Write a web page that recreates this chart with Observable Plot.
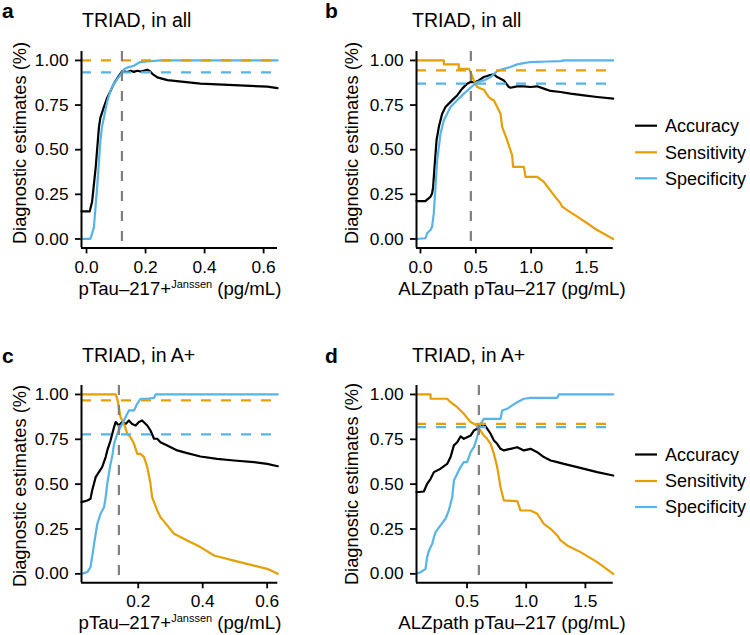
<!DOCTYPE html>
<html>
<head>
<meta charset="utf-8">
<script src="https://cdn.jsdelivr.net/npm/d3@7"></script>
<script src="https://cdn.jsdelivr.net/npm/@observablehq/plot@0.6"></script>
<style>
  html, body { margin: 0; padding: 0; background: #fff; }
  #root { position: relative; width: 750px; height: 635px; overflow: hidden; background: #fff; }
  #root svg.panel { position: absolute; }
  #overlay { position: absolute; left: 0; top: 0; pointer-events: none; }
</style>
</head>
<body>
<div id="root"></div>
<script>
// ---------------- data ----------------
const yTicks = [0, 0.25, 0.5, 0.75, 1];
const yDomain = [-0.05, 1.05];
const seriesNames = ["Accuracy", "Sensitivity", "Specificity"];

// Panel a: TRIAD, in all — pTau-217+ Janssen
const xTicksA = [0, 0.2, 0.4, 0.6];
const xDomainA = [-0.017, 0.647];
const accA = [[-0.017,0.155],[0.011,0.155],[0.019,0.21],[0.031,0.40],[0.042,0.625],[0.047,0.68],[0.059,0.74],[0.070,0.79],[0.093,0.87],[0.110,0.915],[0.121,0.94],[0.138,0.935],[0.15,0.942],[0.16,0.936],[0.172,0.942],[0.183,0.938],[0.206,0.948],[0.215,0.94],[0.223,0.925],[0.24,0.905],[0.274,0.89],[0.33,0.88],[0.386,0.87],[0.499,0.862],[0.613,0.853],[0.647,0.845]];
const specA = [[-0.017,0],[0.012,0],[0.015,0.01],[0.025,0.065],[0.036,0.29],[0.047,0.55],[0.052,0.625],[0.059,0.68],[0.070,0.77],[0.081,0.83],[0.093,0.87],[0.104,0.895],[0.115,0.92],[0.127,0.95],[0.138,0.96],[0.16,0.97],[0.18,0.99],[0.206,0.994],[0.25,1],[0.647,1]];
const cutA = 0.12, sensCutA = 1.0, specCutA = 0.933;

// Panel b: TRIAD, in all — ALZpath pTau-217
const xTicksB = [0, 0.5, 1, 1.5];
const xDomainB = [-0.036, 1.741];
const accB = [[-0.036,0.212],[0.045,0.212],[0.06,0.22],[0.09,0.236],[0.105,0.255],[0.114,0.29],[0.127,0.404],[0.145,0.553],[0.166,0.628],[0.196,0.702],[0.226,0.739],[0.256,0.758],[0.301,0.786],[0.331,0.804],[0.377,0.842],[0.422,0.87],[0.452,0.879],[0.497,0.879],[0.527,0.888],[0.572,0.907],[0.617,0.916],[0.663,0.922],[0.693,0.907],[0.753,0.888],[0.798,0.851],[0.813,0.847],[0.873,0.855],[0.934,0.855],[0.994,0.851],[1.054,0.855],[1.114,0.842],[1.175,0.829],[1.265,0.823],[1.355,0.814],[1.476,0.804],[1.596,0.795],[1.741,0.786]];
const sensB = [[-0.036,1],[0.211,1],[0.211,0.978],[0.346,0.978],[0.346,0.953],[0.437,0.953],[0.452,0.935],[0.482,0.888],[0.512,0.851],[0.572,0.836],[0.617,0.795],[0.633,0.786],[0.663,0.777],[0.693,0.739],[0.723,0.702],[0.738,0.628],[0.783,0.553],[0.828,0.469],[0.837,0.404],[0.934,0.404],[0.949,0.348],[1.054,0.348],[1.114,0.32],[1.205,0.246],[1.265,0.199],[1.28,0.181],[1.325,0.162],[1.416,0.125],[1.506,0.088],[1.596,0.05],[1.741,0]];
const specB = [[-0.036,0],[0.045,0.004],[0.06,0.032],[0.09,0.05],[0.105,0.069],[0.12,0.143],[0.136,0.292],[0.151,0.441],[0.181,0.59],[0.211,0.665],[0.241,0.702],[0.271,0.739],[0.331,0.777],[0.392,0.814],[0.452,0.847],[0.512,0.879],[0.572,0.888],[0.633,0.907],[0.693,0.94],[0.753,0.953],[0.813,0.963],[0.873,0.978],[0.934,0.985],[0.994,0.991],[1.145,0.994],[1.265,0.996],[1.295,1],[1.741,1]];
const cutB = 0.455, sensCutB = 0.944, specCutB = 0.87;

// Panel c: TRIAD, in A+ — pTau-217+ Janssen
const xTicksC = [0.2, 0.4, 0.6];
const xDomainC = [0.024, 0.633];
const accC = [[0.024,0.4],[0.042,0.409],[0.052,0.418],[0.057,0.465],[0.068,0.539],[0.078,0.567],[0.088,0.595],[0.099,0.651],[0.104,0.688],[0.114,0.743],[0.125,0.818],[0.13,0.846],[0.14,0.827],[0.15,0.846],[0.161,0.836],[0.171,0.855],[0.181,0.836],[0.192,0.827],[0.202,0.846],[0.212,0.855],[0.228,0.827],[0.238,0.799],[0.249,0.753],[0.259,0.753],[0.269,0.734],[0.29,0.716],[0.321,0.688],[0.352,0.673],[0.393,0.654],[0.445,0.641],[0.497,0.632],[0.559,0.623],[0.6,0.613],[0.633,0.6]];
const sensC = [[0.024,1],[0.13,1],[0.135,0.976],[0.14,0.929],[0.145,0.874],[0.156,0.836],[0.166,0.781],[0.176,0.762],[0.187,0.725],[0.197,0.669],[0.207,0.669],[0.218,0.651],[0.228,0.595],[0.238,0.502],[0.243,0.428],[0.249,0.4],[0.259,0.353],[0.269,0.316],[0.29,0.27],[0.311,0.223],[0.352,0.186],[0.393,0.149],[0.435,0.102],[0.497,0.074],[0.559,0.046],[0.6,0.028],[0.633,0]];
const specC = [[0.024,0],[0.042,0.01],[0.052,0.037],[0.057,0.093],[0.063,0.167],[0.073,0.279],[0.083,0.335],[0.094,0.372],[0.099,0.428],[0.104,0.502],[0.114,0.613],[0.119,0.651],[0.125,0.725],[0.135,0.781],[0.145,0.818],[0.161,0.874],[0.171,0.911],[0.187,0.911],[0.197,0.948],[0.207,0.976],[0.228,0.976],[0.249,0.981],[0.254,1],[0.633,1]];
const cutC = 0.14, sensCutC = 0.967, specCutC = 0.777;

// Panel d: TRIAD, in A+ — ALZpath pTau-217
const xTicksD = [0.5, 1, 1.5];
const xDomainD = [0.073, 1.735];
const accD = [[0.073,0.455],[0.135,0.459],[0.163,0.502],[0.192,0.53],[0.22,0.567],[0.276,0.586],[0.332,0.613],[0.361,0.651],[0.389,0.716],[0.417,0.734],[0.445,0.766],[0.473,0.753],[0.501,0.762],[0.53,0.771],[0.558,0.799],[0.586,0.809],[0.614,0.827],[0.642,0.836],[0.67,0.809],[0.699,0.781],[0.727,0.743],[0.755,0.725],[0.783,0.697],[0.811,0.688],[0.868,0.697],[0.924,0.706],[0.98,0.688],[1.037,0.697],[1.093,0.678],[1.149,0.651],[1.206,0.632],[1.262,0.623],[1.318,0.613],[1.431,0.595],[1.6,0.567],[1.735,0.548]];
const sensD = [[0.073,1],[0.192,1],[0.192,0.976],[0.332,0.976],[0.361,0.957],[0.417,0.929],[0.473,0.892],[0.53,0.846],[0.586,0.827],[0.614,0.799],[0.642,0.771],[0.67,0.753],[0.699,0.725],[0.727,0.669],[0.755,0.595],[0.783,0.483],[0.811,0.409],[0.924,0.405],[0.952,0.353],[1.037,0.353],[1.093,0.335],[1.149,0.279],[1.206,0.251],[1.262,0.214],[1.29,0.186],[1.346,0.158],[1.459,0.121],[1.6,0.065],[1.735,0]];
const specD = [[0.073,0],[0.107,0.009],[0.149,0.028],[0.163,0.093],[0.178,0.13],[0.206,0.167],[0.22,0.204],[0.234,0.232],[0.276,0.27],[0.318,0.307],[0.346,0.353],[0.375,0.428],[0.389,0.52],[0.417,0.558],[0.445,0.595],[0.473,0.623],[0.501,0.623],[0.53,0.678],[0.558,0.706],[0.586,0.762],[0.6,0.809],[0.614,0.836],[0.642,0.864],[0.783,0.864],[0.797,0.911],[0.839,0.92],[0.882,0.939],[0.924,0.957],[0.98,0.976],[1.037,0.981],[1.262,0.981],[1.276,1],[1.735,1]];
const cutD = 0.60, sensCutD = 0.836, specCutD = 0.818;

// ---------------- styling ----------------
const FONT = '"Liberation Sans", Arial, Helvetica, sans-serif';
const BLACK = "#000000", ORANGE = "#E69F00", BLUE = "#56B4E9", GRAY = "#7F7F7F";
const colors = [BLACK, ORANGE, BLUE];

const panels = [
  {key: "a", left: 0, top: 0, mt: 51, mb: 52.6, mr: 23, xpad: 7, xDomain: xDomainA, xTicks: xTicksA, acc: accA, sens: null, spec: specA, cut: cutA, sensCut: sensCutA, specCut: specCutA},
  {key: "b", left: 335, top: 0, mt: 51, mb: 52.6, mr: 22.3, xpad: 7, xDomain: xDomainB, xTicks: xTicksB, acc: accB, sens: sensB, spec: specB, cut: cutB, sensCut: sensCutB, specCut: specCutB},
  {key: "c", left: 0, top: 334, mt: 51, mb: 51.7, mr: 22.7, xpad: 5.5, xDomain: xDomainC, xTicks: xTicksC, acc: accC, sens: sensC, spec: specC, cut: cutC, sensCut: sensCutC, specCut: specCutC},
  {key: "d", left: 335, top: 334, mt: 51, mb: 51.7, mr: 22.3, xpad: 5.5, xDomain: xDomainD, xTicks: xTicksD, acc: accD, sens: sensD, spec: specD, cut: cutD, sensCut: sensCutD, specCut: specCutD}
];

const root = document.getElementById("root");
const dash = "10,10";

for (const p of panels) {
  const lineMarks = [];
  [p.acc, p.sens, p.spec].forEach((data, i) => {
    if (data) lineMarks.push(Plot.line(data, {x: d => d[0], y: d => d[1], stroke: colors[i], strokeWidth: 2.2}));
  });
  const svg = Plot.plot({
    width: 300, height: 300,
    marginLeft: 81, marginRight: p.mr, marginTop: p.mt, marginBottom: p.mb,
    x: {domain: p.xDomain},
    y: {domain: yDomain},
    style: {fontFamily: FONT, fontSize: "17.3px", color: "black", background: "transparent", overflow: "visible"},
    marks: [
      Plot.axisY({ticks: yTicks, tickFormat: d3.format(".2f"), tickSize: 6, tickPadding: 7, strokeWidth: 1.8, label: null}),
      Plot.axisX({ticks: p.xTicks, tickFormat: d3.format(".1f"), tickSize: 6, tickPadding: p.xpad, strokeWidth: 1.8, label: null}),
      ...lineMarks,
      Plot.ruleY([p.sensCut], {stroke: ORANGE, strokeWidth: 2.2, strokeDasharray: dash}),
      Plot.ruleY([p.specCut], {stroke: BLUE, strokeWidth: 2.2, strokeDasharray: dash}),
      Plot.ruleX([p.cut], {stroke: GRAY, strokeWidth: 2.2, strokeDasharray: dash}),
      Plot.ruleX([p.xDomain[0]], {stroke: BLACK, strokeWidth: 2}),
      Plot.ruleY([yDomain[0]], {stroke: BLACK, strokeWidth: 2})
    ]
  });
  svg.classList.add("panel");
  svg.style.left = p.left + "px";
  svg.style.top = p.top + "px";
  root.appendChild(svg);
}

// ---------------- text overlay (titles, labels, legends) ----------------
const NS = "http://www.w3.org/2000/svg";
const ov = document.createElementNS(NS, "svg");
ov.setAttribute("id", "overlay");
ov.setAttribute("width", 750);
ov.setAttribute("height", 635);
ov.style.fontFamily = FONT;
root.appendChild(ov);

function txt(x, y, s, opts = {}) {
  const t = document.createElementNS(NS, "text");
  t.setAttribute("x", x); t.setAttribute("y", y);
  t.setAttribute("font-size", opts.size || 18);
  if (opts.weight) t.setAttribute("font-weight", opts.weight);
  if (opts.anchor) t.setAttribute("text-anchor", opts.anchor);
  if (opts.transform) t.setAttribute("transform", opts.transform);
  t.setAttribute("fill", "black");
  if (Array.isArray(s)) {
    for (const part of s) {
      const ts = document.createElementNS(NS, "tspan");
      if (part.sup) { ts.setAttribute("font-size", 11); ts.setAttribute("dy", -6.8); }
      if (part.down) { ts.setAttribute("dy", 6.8); }
      ts.textContent = part.t;
      t.appendChild(ts);
    }
  } else t.textContent = s;
  ov.appendChild(t);
  return t;
}

const panelLetters = ["a", "b", "c", "d"];
const titles = ["TRIAD, in all", "TRIAD, in all", "TRIAD, in A+", "TRIAD, in A+"];
const yLabel = "Diagnostic estimates (%)";
const xLabelJanssen = [{t: "pTau–217+"}, {t: "Janssen", sup: true}, {t: " (pg/mL)", down: true}];
const xLabelALZ = "ALZpath pTau–217 (pg/mL)";

// letters
txt(2, 18, panelLetters[0], {size: 21, weight: "bold"});
txt(325, 18, panelLetters[1], {size: 21, weight: "bold"});
txt(2, 363, panelLetters[2], {size: 21, weight: "bold"});
txt(325, 363, panelLetters[3], {size: 21, weight: "bold"});
// titles
txt(82, 27, titles[0], {size: 19.5});
txt(412, 27, titles[1], {size: 19.5});
txt(82, 362, titles[2], {size: 19.5});
txt(412, 362, titles[3], {size: 19.5});
// y labels
txt(0, 0, yLabel, {size: 18.3, anchor: "middle", transform: "translate(26,143) rotate(-90)"});
txt(0, 0, yLabel, {size: 18.3, anchor: "middle", transform: "translate(358,143) rotate(-90)"});
txt(0, 0, yLabel, {size: 18.3, anchor: "middle", transform: "translate(26,486) rotate(-90)"});
txt(0, 0, yLabel, {size: 18.3, anchor: "middle", transform: "translate(358,484) rotate(-90)"});
// x labels
txt(180, 295, xLabelJanssen, {size: 18.6, anchor: "middle"});
txt(512, 295, xLabelALZ, {size: 18.7, anchor: "middle"});
txt(180, 628.5, xLabelJanssen, {size: 18.6, anchor: "middle"});
txt(512, 628.5, xLabelALZ, {size: 18.7, anchor: "middle"});

// legends
function legend(rowsY) {
  seriesNames.forEach((name, i) => {
    const l = document.createElementNS(NS, "line");
    l.setAttribute("x1", 635); l.setAttribute("x2", 657);
    l.setAttribute("y1", rowsY[i]); l.setAttribute("y2", rowsY[i]);
    l.setAttribute("stroke", colors[i]); l.setAttribute("stroke-width", 2.2);
    ov.appendChild(l);
    txt(665, rowsY[i] + 6.3, name, {size: 18});
  });
}
legend([125.7, 152.3, 178.3]);
legend([454.5, 481, 507]);
</script>
</body>
</html>
